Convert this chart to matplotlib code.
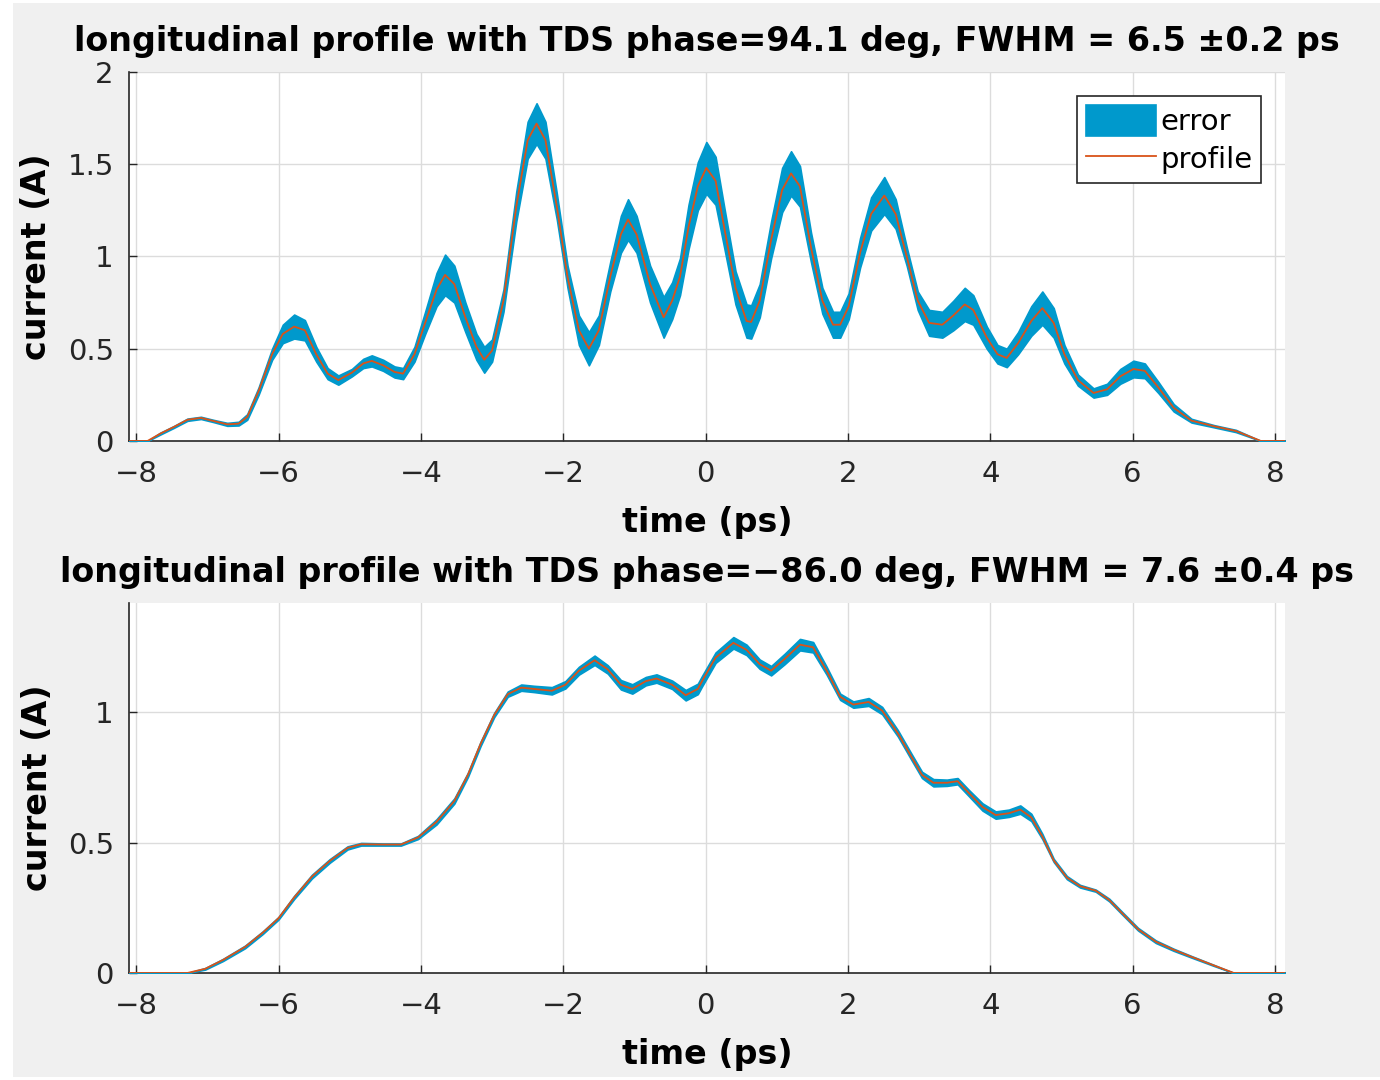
import matplotlib

matplotlib.use("Agg")
import matplotlib.pyplot as plt
import numpy as np
from matplotlib.patches import Rectangle

# phase = 94.1 deg
t_top = [-8.10, -7.84, -7.66, -7.47, -7.28, -7.09, -6.91, -6.72, -6.56, -6.44,
         -6.28, -6.09, -5.94, -5.78, -5.63, -5.47, -5.31, -5.16, -4.97, -4.81,
         -4.69, -4.53, -4.37, -4.25, -4.09, -3.94, -3.78, -3.66, -3.53, -3.375,
         -3.22, -3.11, -3.00, -2.84, -2.66, -2.50, -2.375, -2.25, -2.09, -1.94,
         -1.78, -1.64, -1.50, -1.34, -1.19, -1.09, -0.97, -0.78, -0.59, -0.47,
         -0.36, -0.24, -0.11, 0.01, 0.14, 0.26, 0.42, 0.575, 0.64, 0.76,
         0.92, 1.075, 1.20, 1.325, 1.48, 1.64, 1.79, 1.89, 2.01, 2.17,
         2.325, 2.51, 2.67, 2.825, 2.98, 3.14, 3.325, 3.48, 3.64, 3.76,
         3.95, 4.10, 4.23, 4.39, 4.575, 4.73, 4.89, 5.04, 5.23, 5.45,
         5.64, 5.825, 6.01, 6.17, 6.36, 6.575, 6.825, 7.14, 7.45, 7.80, 8.14]
I_top = [0.0, 0.0, 0.04, 0.076, 0.115, 0.125, 0.108, 0.09, 0.094, 0.13,
         0.27, 0.47, 0.58, 0.62, 0.60, 0.47, 0.365, 0.33, 0.37, 0.42,
         0.434, 0.41, 0.374, 0.365, 0.47, 0.64, 0.82, 0.90, 0.85, 0.67,
         0.51, 0.44, 0.49, 0.76, 1.27, 1.63, 1.72, 1.63, 1.27, 0.89,
         0.60, 0.50, 0.60, 0.89, 1.12, 1.20, 1.12, 0.85, 0.67, 0.76,
         0.89, 1.16, 1.38, 1.48, 1.41, 1.16, 0.83, 0.65, 0.645, 0.76,
         1.09, 1.36, 1.45, 1.38, 1.05, 0.76, 0.63, 0.63, 0.73, 1.02,
         1.23, 1.33, 1.23, 1.00, 0.76, 0.64, 0.63, 0.68, 0.74, 0.71,
         0.56, 0.47, 0.45, 0.53, 0.65, 0.72, 0.64, 0.47, 0.33, 0.26,
         0.28, 0.35, 0.39, 0.38, 0.29, 0.18, 0.11, 0.08, 0.054, 0.0, 0.0]
err_top = [0.0, 0.0, 0.005, 0.005, 0.006, 0.006, 0.006, 0.008, 0.01, 0.015,
           0.02, 0.03, 0.05, 0.065, 0.055, 0.04, 0.03, 0.025, 0.02, 0.025,
           0.03, 0.03, 0.03, 0.03, 0.04, 0.06, 0.09, 0.11, 0.10, 0.08,
           0.07, 0.07, 0.06, 0.06, 0.08, 0.10, 0.11, 0.10, 0.07, 0.06,
           0.08, 0.09, 0.08, 0.08, 0.10, 0.11, 0.10, 0.10, 0.11, 0.10,
           0.10, 0.12, 0.13, 0.14, 0.13, 0.11, 0.09, 0.09, 0.09, 0.09,
           0.10, 0.12, 0.12, 0.11, 0.08, 0.07, 0.07, 0.07, 0.07, 0.08,
           0.09, 0.10, 0.08, 0.05, 0.05, 0.07, 0.07, 0.08, 0.09, 0.08,
           0.06, 0.05, 0.05, 0.06, 0.08, 0.09, 0.08, 0.05, 0.03, 0.025,
           0.03, 0.04, 0.045, 0.04, 0.03, 0.02, 0.01, 0.006, 0.006, 0.0, 0.0]

# phase = -86.0 deg
t_bot = [-8.10, -7.28, -7.03, -6.78, -6.47, -6.22, -6.00, -5.78, -5.53, -5.28,
         -5.03, -4.84, -4.53, -4.28, -4.04, -3.78, -3.53, -3.34, -3.16, -2.97,
         -2.78, -2.59, -2.41, -2.16, -1.97, -1.78, -1.56, -1.375, -1.19, -1.03,
         -0.84, -0.69, -0.47, -0.28, -0.11, -0.05, 0.14, 0.39, 0.575, 0.76,
         0.92, 1.11, 1.325, 1.51, 1.70, 1.89, 2.075, 2.29, 2.48, 2.70,
         2.89, 3.04, 3.20, 3.39, 3.54, 3.70, 3.89, 4.075, 4.26, 4.42,
         4.575, 4.73, 4.89, 5.075, 5.26, 5.48, 5.67, 5.86, 6.075, 6.325,
         6.575, 6.825, 7.14, 7.42, 8.14]
I_bot = [0.0, 0.0, 0.016, 0.05, 0.10, 0.155, 0.21, 0.29, 0.37, 0.43,
         0.48, 0.494, 0.493, 0.493, 0.52, 0.58, 0.66, 0.76, 0.88, 0.99,
         1.07, 1.095, 1.09, 1.083, 1.106, 1.16, 1.20, 1.165, 1.106, 1.09,
         1.12, 1.13, 1.106, 1.066, 1.09, 1.12, 1.21, 1.267, 1.24, 1.185,
         1.16, 1.205, 1.26, 1.25, 1.16, 1.06, 1.03, 1.04, 1.007, 0.92,
         0.83, 0.76, 0.73, 0.73, 0.736, 0.69, 0.637, 0.606, 0.613, 0.627,
         0.597, 0.524, 0.432, 0.366, 0.333, 0.316, 0.28, 0.227, 0.168, 0.12,
         0.089, 0.062, 0.029, 0.0, 0.0]
err_bot = [0.0, 0.0, 0.003, 0.004, 0.005, 0.005, 0.005, 0.006, 0.007, 0.007,
           0.006, 0.005, 0.004, 0.004, 0.006, 0.01, 0.01, 0.008, 0.008, 0.008,
           0.01, 0.012, 0.012, 0.014, 0.014, 0.015, 0.018, 0.016, 0.018, 0.018,
           0.016, 0.016, 0.016, 0.02, 0.02, 0.02, 0.02, 0.022, 0.02, 0.018,
           0.018, 0.02, 0.022, 0.02, 0.015, 0.012, 0.012, 0.015, 0.014, 0.012,
           0.012, 0.012, 0.014, 0.012, 0.012, 0.012, 0.014, 0.014, 0.014, 0.016,
           0.014, 0.01, 0.006, 0.006, 0.005, 0.004, 0.005, 0.005, 0.005, 0.005,
           0.004, 0.003, 0.002, 0.0, 0.0]

titles = ["longitudinal profile with TDS phase=94.1 deg, FWHM = 6.5 \u00b10.2 ps",
          "longitudinal profile with TDS phase=\u221286.0 deg, FWHM = 7.6 \u00b10.4 ps"]
x_ticks = [-8, -6, -4, -2, 0, 2, 4, 6, 8]
y_ticks_top = [0, 0.5, 1, 1.5, 2]
y_ticks_bot = [0, 0.5, 1]

ERR_C = "#0099cc"
LINE_C = "#d95319"
BG = "#f0f0f0"

plt.rcParams["font.family"] = ["DejaVu Sans"]

fig = plt.figure(figsize=(13.8, 10.8), dpi=100, facecolor="white")
fig.patches.append(Rectangle((13 / 1380, 3 / 1080), 1, 1 - 6 / 1080,
                             transform=fig.transFigure, facecolor=BG,
                             edgecolor="none", zorder=-10))

ax_top = fig.add_axes([0.0935, 0.5917, 0.8377, 0.3417])
ax_bot = fig.add_axes([0.0935, 0.0991, 0.8377, 0.3426])

panels = [(ax_top, t_top, I_top, err_top, (0, 2), y_ticks_top, titles[0]),
          (ax_bot, t_bot, I_bot, err_bot, (0, 1.42), y_ticks_bot, titles[1])]

for ax, t, I, e, ylim, yt, title in panels:
    t = np.asarray(t); I = np.asarray(I); e = np.asarray(e)
    ax.fill_between(t, I - e, I + e, color=ERR_C, lw=1.2, edgecolor=ERR_C,
                    label="error", zorder=2)
    ax.plot(t, I, color=LINE_C, lw=1.3, label="profile", zorder=3)
    ax.set_xlim(-8.1, 8.14)
    ax.set_ylim(*ylim)
    ax.set_xticks(x_ticks)
    ax.set_yticks(yt)
    ax.set_yticklabels([f"{v:g}" for v in yt])
    ax.set_xticklabels([f"{v}".replace("-", "\u2212") for v in x_ticks])
    ax.grid(True, color="#dcdcdc", lw=1.0)
    ax.set_axisbelow(True)
    for s in ("top", "right"):
        ax.spines[s].set_visible(False)
    for s in ("left", "bottom"):
        ax.spines[s].set_color("#262626")
        ax.spines[s].set_linewidth(1.2)
        ax.spines[s].set_zorder(1)
    ax.tick_params(direction="in", length=6, width=1.0, labelsize=21,
                   colors="#262626")
    ax.tick_params(axis="x", pad=14)
    ax.tick_params(axis="y", pad=11)
    ax.set_xlabel("time (ps)", fontsize=24, fontweight="bold", labelpad=13)
    ax.set_ylabel("current (A)", fontsize=24, fontweight="bold", labelpad=10)
    ax.set_title(title, fontsize=24, fontweight="bold", pad=15)

leg = ax_top.legend(loc="upper right", bbox_to_anchor=(0.979, 0.935),
                    fontsize=21, frameon=True, fancybox=False,
                    edgecolor="#262626", framealpha=1, handlelength=2.4,
                    handleheight=1.25, handletextpad=0.15, borderpad=0.3,
                    labelspacing=0.25, borderaxespad=0)
leg.get_frame().set_linewidth(1.2)

fig.savefig("out.png", dpi=100, facecolor=fig.get_facecolor())
